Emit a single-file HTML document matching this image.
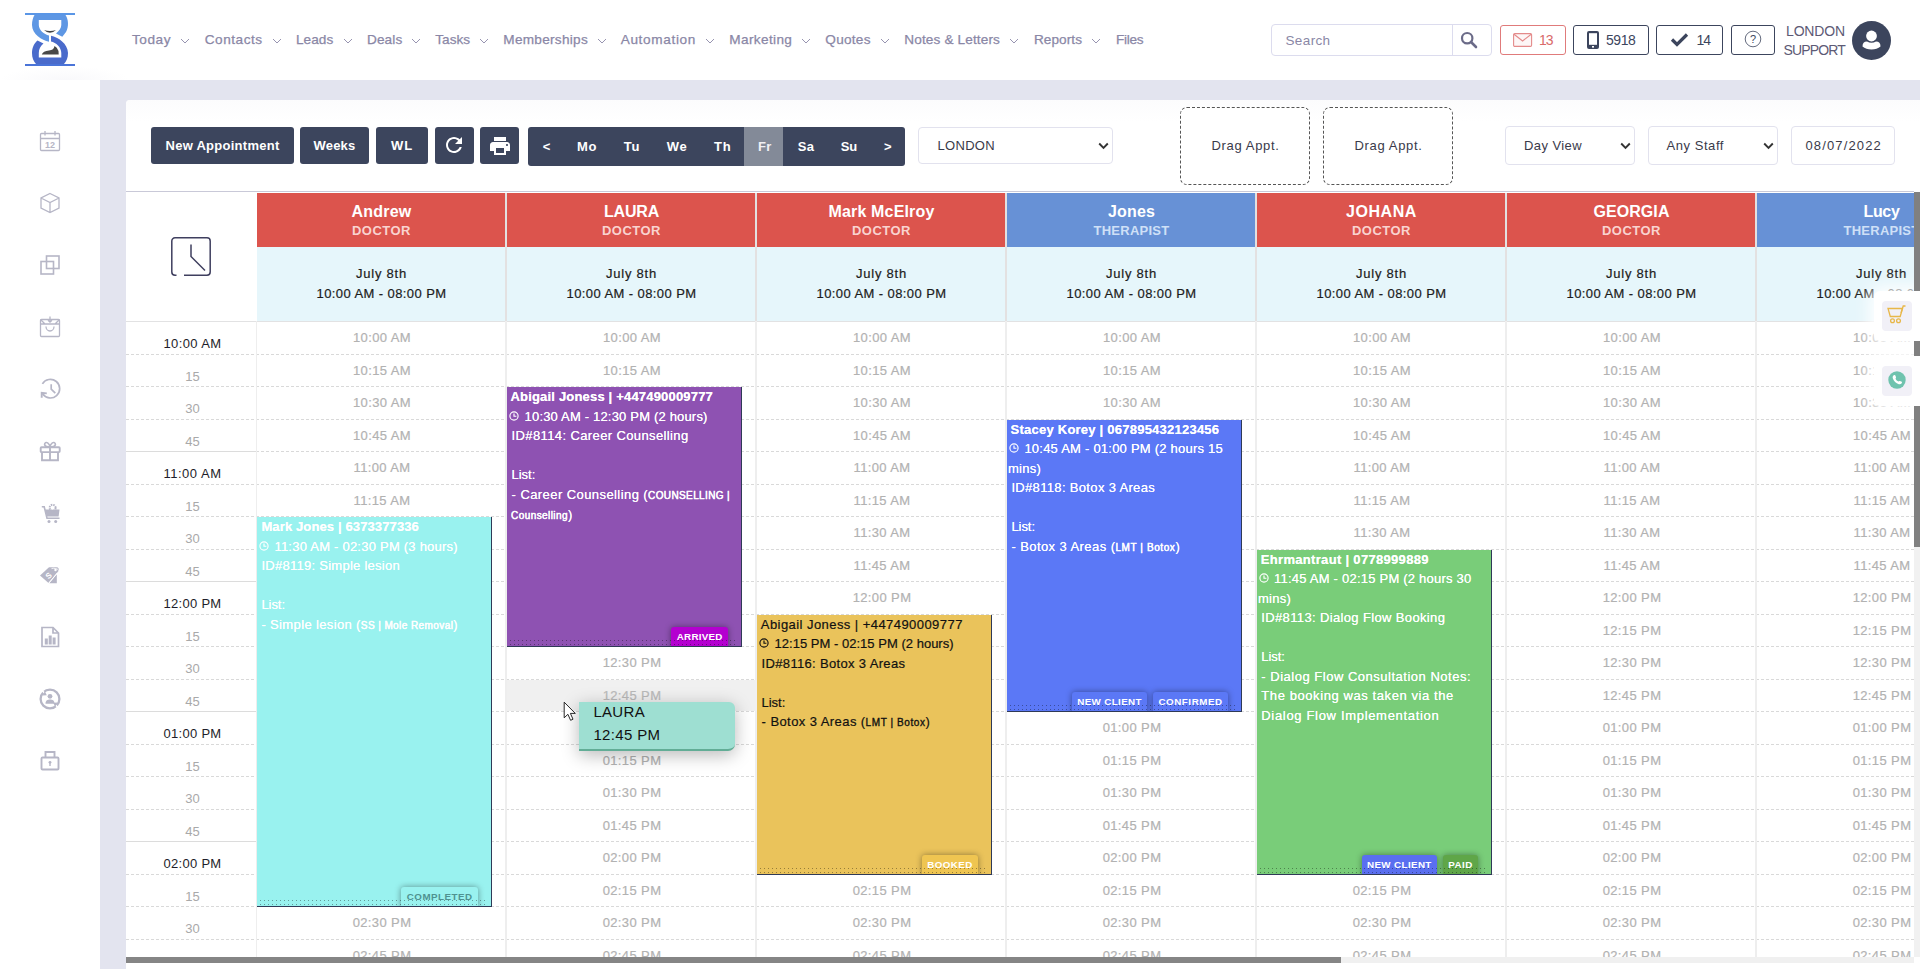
<!DOCTYPE html>
<html><head><meta charset="utf-8"><title>Calendar</title>
<style>
html,body{margin:0;padding:0;width:1920px;height:969px;overflow:hidden;}
#root{position:absolute;left:0;top:0;width:1920px;height:969px;overflow:hidden;}
body{width:1920px;height:969px;overflow:hidden;position:relative;background:#e3e4ef;font-family:"Liberation Sans", sans-serif;}
div,span{box-sizing:border-box;}

.dl{position:absolute;left:126px;width:1788px;height:1px;background:repeating-linear-gradient(90deg,#d9d9d9 0 3px,transparent 3px 5px);}
.st{position:absolute;line-height:20px;white-space:pre;color:#b2b2b2;-webkit-text-stroke:.2px #b2b2b2;font-size:13px;letter-spacing:0.383px;width:250px;text-align:center;}
.vl{position:absolute;top:193px;width:2px;height:776px;background:#eeeeee;}

</style></head><body><div id="root">
<div style="position:absolute;left:0px;top:0px;width:1920px;height:80px;background:#fff;"></div>
<div style="position:absolute;left:0px;top:0px;width:100px;height:969px;background:#fff;"></div>
<div style="position:absolute;left:0px;top:66px;width:130px;height:14px;background:radial-gradient(ellipse at 50% 100%, rgba(230,230,240,.25), rgba(255,255,255,0) 70%);"></div>
<div style="position:absolute;left:126px;top:100px;width:1794px;height:880px;background:#fff;border-radius:4px 4px 0 0;"></div>
<div style="position:absolute;left:126px;top:100px;width:1794px;height:22px;background:linear-gradient(#fcfcfd,#fff);border-radius:4px 0 0 0;"></div>
<svg style="position:absolute;left:25px;top:13px" width="50" height="53" viewBox="0 0 50 53">
<rect x="0" y="0" width="50" height="2" fill="#5a96e6"/>
<rect x="0" y="51" width="50" height="2" fill="#4a74d8"/>
<path d="M9.5,2 L40.5,2 C43.5,6 44,14 41,19 L37.3,23.7 L31,20.5 C34,18 36.300,15 36.300,12 L36.300,7 L13.8,7 L13.8,12 C13.8,17 19,21.5 24,22.4 L24,28.7 C17,27.5 7,21 7,12 C7,8 8,4.5 9.5,2 Z" fill="#5e97e4"/>
<path d="M26,22.8 C33,24 43,31 43,40 C43,45 41.5,48 39,51 L11,51 C8.5,48 7,45 7,40 C7,34 9.5,30 12.5,27.4 L18.5,30.5 C15.5,33 13.8,36 13.8,40 L13.8,44.6 L36.300,44.6 L36.300,40 C36.300,34 31,29.5 26,28.4 Z" fill="#4a6bcb"/>
<path d="M19,17 Q25,19 31,17 Q25,22.600 19,17Z" fill="#444"/>
<path d="M16.8,41.6 L33.7,41.6 L33.5,38 Q32,34 29.5,33 Q29,37 24,37.5 Q18,38 16.8,41.6 Z" fill="#484848"/>
</svg>
<div style="position:absolute;top:29.70px;line-height:20px;white-space:pre;color:#8a87a6;font-size:13.6px;font-weight:400;letter-spacing:0.544px;left:132.00px;-webkit-text-stroke:.25px #8a87a6;">Today</div>
<svg style="position:absolute;left:180px;top:38px" width="10" height="6" viewBox="0 0 10 6"><path d="M1 1 L5 5 L9 1" fill="none" stroke="#9794b0" stroke-width="1"/></svg>
<div style="position:absolute;top:29.70px;line-height:20px;white-space:pre;color:#8a87a6;font-size:13.6px;font-weight:400;letter-spacing:0.543px;left:204.70px;-webkit-text-stroke:.25px #8a87a6;">Contacts</div>
<svg style="position:absolute;left:271.7px;top:38px" width="10" height="6" viewBox="0 0 10 6"><path d="M1 1 L5 5 L9 1" fill="none" stroke="#9794b0" stroke-width="1"/></svg>
<div style="position:absolute;top:29.70px;line-height:20px;white-space:pre;color:#8a87a6;font-size:13.6px;font-weight:400;letter-spacing:0.051px;left:296.00px;-webkit-text-stroke:.25px #8a87a6;">Leads</div>
<svg style="position:absolute;left:342.7px;top:38px" width="10" height="6" viewBox="0 0 10 6"><path d="M1 1 L5 5 L9 1" fill="none" stroke="#9794b0" stroke-width="1"/></svg>
<div style="position:absolute;top:29.70px;line-height:20px;white-space:pre;color:#8a87a6;font-size:13.6px;font-weight:400;letter-spacing:0.107px;left:367.00px;-webkit-text-stroke:.25px #8a87a6;">Deals</div>
<svg style="position:absolute;left:411px;top:38px" width="10" height="6" viewBox="0 0 10 6"><path d="M1 1 L5 5 L9 1" fill="none" stroke="#9794b0" stroke-width="1"/></svg>
<div style="position:absolute;top:29.70px;line-height:20px;white-space:pre;color:#8a87a6;font-size:13.6px;font-weight:400;letter-spacing:-0.01px;left:435.30px;-webkit-text-stroke:.25px #8a87a6;">Tasks</div>
<svg style="position:absolute;left:479px;top:38px" width="10" height="6" viewBox="0 0 10 6"><path d="M1 1 L5 5 L9 1" fill="none" stroke="#9794b0" stroke-width="1"/></svg>
<div style="position:absolute;top:29.70px;line-height:20px;white-space:pre;color:#8a87a6;font-size:13.6px;font-weight:400;letter-spacing:0.282px;left:503.30px;-webkit-text-stroke:.25px #8a87a6;">Memberships</div>
<svg style="position:absolute;left:597px;top:38px" width="10" height="6" viewBox="0 0 10 6"><path d="M1 1 L5 5 L9 1" fill="none" stroke="#9794b0" stroke-width="1"/></svg>
<div style="position:absolute;top:29.70px;line-height:20px;white-space:pre;color:#8a87a6;font-size:13.6px;font-weight:400;letter-spacing:0.653px;left:620.70px;-webkit-text-stroke:.25px #8a87a6;">Automation</div>
<svg style="position:absolute;left:704.7px;top:38px" width="10" height="6" viewBox="0 0 10 6"><path d="M1 1 L5 5 L9 1" fill="none" stroke="#9794b0" stroke-width="1"/></svg>
<div style="position:absolute;top:29.70px;line-height:20px;white-space:pre;color:#8a87a6;font-size:13.6px;font-weight:400;letter-spacing:0.368px;left:729.30px;-webkit-text-stroke:.25px #8a87a6;">Marketing</div>
<svg style="position:absolute;left:800.7px;top:38px" width="10" height="6" viewBox="0 0 10 6"><path d="M1 1 L5 5 L9 1" fill="none" stroke="#9794b0" stroke-width="1"/></svg>
<div style="position:absolute;top:29.70px;line-height:20px;white-space:pre;color:#8a87a6;font-size:13.6px;font-weight:400;letter-spacing:0.262px;left:825.30px;-webkit-text-stroke:.25px #8a87a6;">Quotes</div>
<svg style="position:absolute;left:880px;top:38px" width="10" height="6" viewBox="0 0 10 6"><path d="M1 1 L5 5 L9 1" fill="none" stroke="#9794b0" stroke-width="1"/></svg>
<div style="position:absolute;top:29.70px;line-height:20px;white-space:pre;color:#8a87a6;font-size:13.6px;font-weight:400;letter-spacing:0.133px;left:904.30px;-webkit-text-stroke:.25px #8a87a6;">Notes &amp; Letters</div>
<svg style="position:absolute;left:1009.3px;top:38px" width="10" height="6" viewBox="0 0 10 6"><path d="M1 1 L5 5 L9 1" fill="none" stroke="#9794b0" stroke-width="1"/></svg>
<div style="position:absolute;top:29.70px;line-height:20px;white-space:pre;color:#8a87a6;font-size:13.6px;font-weight:400;letter-spacing:0.056px;left:1034.00px;-webkit-text-stroke:.25px #8a87a6;">Reports</div>
<svg style="position:absolute;left:1091px;top:38px" width="10" height="6" viewBox="0 0 10 6"><path d="M1 1 L5 5 L9 1" fill="none" stroke="#9794b0" stroke-width="1"/></svg>
<div style="position:absolute;top:29.70px;line-height:20px;white-space:pre;color:#8a87a6;font-size:13.6px;font-weight:400;letter-spacing:-0.281px;left:1116.00px;-webkit-text-stroke:.25px #8a87a6;">Files</div>
<div style="position:absolute;left:1271px;top:24px;width:221px;height:32px;background:#fff;border:1px solid #dcdcee;border-radius:4px;"></div>
<div style="position:absolute;left:1452px;top:25px;width:1px;height:30px;background:#dcdcee;"></div>
<div style="position:absolute;top:31.00px;line-height:20px;white-space:pre;color:#8a87a6;font-size:13.5px;font-weight:400;letter-spacing:0.37px;left:1285.50px;">Search</div>
<svg style="position:absolute;left:1460px;top:31px" width="18" height="18" viewBox="0 0 18 18"><circle cx="7.2" cy="7.2" r="5.2" fill="none" stroke="#6b6b88" stroke-width="2.2"/><path d="M11 11 L16 16" stroke="#6b6b88" stroke-width="2.6" stroke-linecap="round"/></svg>
<div style="position:absolute;left:1500px;top:25px;width:66px;height:30px;border:1px solid #e07b7b;border-radius:3px;background:#fff;"></div>
<svg style="position:absolute;left:1513px;top:33px" width="20" height="15" viewBox="0 0 20 15"><rect x=".6" y=".6" width="18" height="12.8" rx="1.2" fill="#fdf6f6" stroke="#e48a8a" stroke-width="1.1"/><path d="M1 1.2 L9.6 8 L18.2 1.2" fill="none" stroke="#e48a8a" stroke-width="1.1"/></svg>
<div style="position:absolute;top:29.50px;line-height:20px;white-space:pre;color:#d96a6a;font-size:14px;font-weight:400;letter-spacing:-1.039px;left:1539.00px;">13</div>
<div style="position:absolute;left:1573px;top:25px;width:76px;height:30px;border:1px solid #3c455d;border-radius:3px;background:#fff;"></div>
<svg style="position:absolute;left:1587px;top:31px" width="12" height="19" viewBox="0 0 12 19"><rect x="0" y="0" width="12" height="18" rx="2" fill="#3c455d"/><rect x="2" y="2.2" width="8" height="11.6" fill="#fff"/><rect x="5" y="15" width="2" height="1.6" fill="#fff"/></svg>
<div style="position:absolute;top:29.50px;line-height:20px;white-space:pre;color:#3c455d;font-size:14px;font-weight:400;letter-spacing:-0.414px;left:1606.00px;">5918</div>
<div style="position:absolute;left:1656px;top:25px;width:67px;height:30px;border:1px solid #3c455d;border-radius:3px;background:#fff;"></div>
<svg style="position:absolute;left:1670px;top:32px" width="19" height="15" viewBox="0 0 19 15"><path d="M2 7.5 L7 12.5 L17 2.5" fill="none" stroke="#3c455d" stroke-width="3.2"/></svg>
<div style="position:absolute;top:29.50px;line-height:20px;white-space:pre;color:#3c455d;font-size:14px;font-weight:400;letter-spacing:-1.039px;left:1696.50px;">14</div>
<div style="position:absolute;left:1731px;top:25px;width:44px;height:30px;border:1px solid #3c455d;border-radius:3px;background:#fff;"></div>
<svg style="position:absolute;left:1744px;top:30px" width="18" height="18" viewBox="0 0 18 18"><circle cx="9" cy="9" r="7.8" fill="none" stroke="#3c455d" stroke-width=".8"/><text x="9" y="13" text-anchor="middle" font-family="Liberation Sans" font-size="11" fill="#3c455d">?</text></svg>
<div style="position:absolute;top:20.50px;line-height:20px;white-space:pre;color:#5d5a75;font-size:14px;font-weight:400;letter-spacing:-0.151px;left:1786.00px;">LONDON</div>
<div style="position:absolute;top:39.50px;line-height:20px;white-space:pre;color:#5d5a75;font-size:14px;font-weight:400;letter-spacing:-0.848px;left:1783.50px;">SUPPORT</div>
<svg style="position:absolute;left:1852px;top:21px" width="39" height="39" viewBox="0 0 39 39"><circle cx="19.5" cy="19.5" r="19.5" fill="#3c455d"/><circle cx="19.5" cy="15" r="5.4" fill="#fff"/><path d="M10.5 25.5 Q10.5 20.5 15 20.5 Q19.5 23 24 20.5 Q28.500 20.5 28.5 25.500 Q25 28.500 19.5 28.500 Q14 28.500 10.5 25.500Z" fill="#fff"/></svg>
<svg style="position:absolute;left:38.0px;top:129.0px" width="24" height="24" viewBox="0 0 24 24" fill="none" stroke="#b6b6c6" stroke-width="1.3"><rect x="2.5" y="4.500" width="19" height="17" rx="1"/><path d="M2.5 9.5H21.5M7 2V6.500M17 2V6.500"/><text x="12" y="18.500" text-anchor="middle" font-family="Liberation Sans" font-size="9" font-weight="700" fill="#b6b6c6" stroke="none">12</text></svg>
<svg style="position:absolute;left:38.0px;top:191.0px" width="24" height="24" viewBox="0 0 24 24" fill="none" stroke="#b6b6c6" stroke-width="1.3"><path d="M12 2.500L21 7V17L12 21.500L3 17V7Z M3 7L12 11.500L21 7 M12 11.500V21.500"/></svg>
<svg style="position:absolute;left:38.0px;top:253.0px" width="24" height="24" viewBox="0 0 24 24" fill="none" stroke="#b6b6c6" stroke-width="1.3"><rect x="8.5" y="3" width="12.5" height="12.5" stroke-width="1.6"/><rect x="3" y="8.5" width="12.5" height="12.5" stroke-width="1.6"/></svg>
<svg style="position:absolute;left:38.0px;top:315.0px" width="24" height="24" viewBox="0 0 24 24" fill="none" stroke="#b6b6c6" stroke-width="1.3"><rect x="2.500" y="4.500" width="19" height="17" rx="1"/><path d="M2.500 9H21.5 M2.500 4.500L7 9 M21.5 4.500L17 9 M8 11.5a4 4.500 0 0 0 8 0 M12 1.500V7 M10 5.200L12 7.200L14 5.200"/></svg>
<svg style="position:absolute;left:37.5px;top:376.5px" width="25" height="25" viewBox="0 0 25 25" fill="none" stroke="#b6b6c6" stroke-width="1.3"><path d="M4.400 6.900A9.300 9.300 0 1 1 4.600 16.800" stroke-width="1.700"/><path d="M13.200 7.200V12.200L17.300 16.200" stroke-width="1.700"/><path d="M3.700 20.800L3.700 15.800L8.800 16.400" stroke-width="1.900" stroke-linejoin="miter"/></svg>
<svg style="position:absolute;left:38.0px;top:439.0px" width="24" height="24" viewBox="0 0 24 24" fill="none" stroke="#b6b6c6" stroke-width="1.3"><rect x="2.700" y="8.300" width="19" height="4.800" rx=".8" stroke-width="1.900"/><path d="M4 13.100V21.200H20V13.100 M12 8.300V21.200" stroke-width="1.900"/><path d="M12 8C9 8 5.800 7 6.800 4.500C8 2.200 11.500 4 12 8C12.500 4 16 2.200 17.200 4.500C18.200 7 15 8 12 8Z" stroke-width="1.600"/></svg>
<svg style="position:absolute;left:39.5px;top:503.0px" width="24" height="24" viewBox="0 0 24 24" fill="none" stroke="#b6b6c6" stroke-width="1.3"><path d="M1.800 3.800H4.200L7 15.300H19.500" stroke-width="1.600"/><path d="M5 6.500H19.500L18.600 13.500H6.800Z" fill="#b6b6c6" stroke="none"/><circle cx="9" cy="18.400" r="1.500" fill="#b6b6c6" stroke="none"/><circle cx="15.700" cy="18.400" r="1.500" fill="#b6b6c6" stroke="none"/><circle cx="12.600" cy="4.800" r="3" stroke-width="2" stroke-dasharray="1.500 .900"/><circle cx="12.600" cy="5" r="1.600" fill="#fff" stroke="none"/></svg>
<svg style="position:absolute;left:39.2px;top:564.0px" width="24" height="24" viewBox="0 0 24 24" fill="none" stroke="#b6b6c6" stroke-width="1.3"><path d="M1 11.500L10 3.300L17.500 3.200C19.500 3.300 20.500 5 19.500 7L9.500 19Z" fill="#b6b6c6" stroke="none"/><path d="M10.300 19.200L17.800 10.200V19.200Z" fill="#b6b6c6" stroke="none"/><path d="M9.500 19.400L18.300 9" stroke="#fff" stroke-width="1"/><circle cx="16.500" cy="6" r="1.200" fill="#fff" stroke="none"/><path d="M12.500 4.600C14.500 3.800 18.800 4.500 19.800 6.500" stroke="#fff" stroke-width=".8"/><text x="7" y="14.800" font-family="Liberation Sans" font-weight="700" font-size="8" fill="#fff" stroke="none" transform="rotate(-42 9 12)">S</text></svg>
<svg style="position:absolute;left:38.0px;top:625.0px" width="24" height="24" viewBox="0 0 24 24" fill="none" stroke="#b6b6c6" stroke-width="1.3"><path d="M4 2.500H15L20.500 8V21.500H4Z M15 2.500V8H20.500" stroke-width="1.700"/><rect x="6.800" y="13.500" width="3" height="6" fill="#b6b6c6" stroke="none"/><rect x="10.700" y="10.500" width="3" height="9" fill="#b6b6c6" stroke="none"/><rect x="14.600" y="12.500" width="3" height="7" fill="#b6b6c6" stroke="none"/></svg>
<svg style="position:absolute;left:38.0px;top:687.0px" width="24" height="24" viewBox="0 0 24 24" fill="none" stroke="#b6b6c6" stroke-width="1.3"><circle cx="12" cy="12" r="9.400" stroke-width="2.300"/><path d="M3.500 3L8.500 8 M20.500 21L15.500 16" stroke="#fff" stroke-width="1.600"/><path d="M6.800 4.200L8.800 8.300L4.500 8.500Z M17.200 19.800L15.200 15.700L19.500 15.500Z" fill="#b6b6c6" stroke="none"/><circle cx="12" cy="9.300" r="2.400" fill="#b6b6c6" stroke="none"/><path d="M7.500 16.800C7.500 13.500 9.500 12.600 12 12.600C14.500 12.600 16.500 13.500 16.500 16.800Z" fill="#b6b6c6" stroke="none"/></svg>
<svg style="position:absolute;left:38.0px;top:747.8px" width="24" height="24" viewBox="0 0 24 24" fill="none" stroke="#b6b6c6" stroke-width="1.3"><rect x="3.500" y="9.500" width="17" height="12" rx="1" stroke-width="1.900"/><path d="M7.500 9.500V4H16.500V9.500" stroke-width="1.900"/><circle cx="12" cy="14.300" r="1.400" fill="#b6b6c6" stroke="none"/><path d="M12 15V18" stroke-width="1.400"/></svg>
<div style="position:absolute;left:151px;top:127px;width:143px;height:37px;background:#3c455d;border-radius:3px;"></div>
<div style="position:absolute;top:136.10px;line-height:20px;white-space:pre;color:#fff;font-size:13px;font-weight:700;letter-spacing:0.266px;left:165.50px;">New Appointment</div>
<div style="position:absolute;left:300px;top:127px;width:69px;height:37px;background:#3c455d;border-radius:3px;"></div>
<div style="position:absolute;top:136.10px;line-height:20px;white-space:pre;color:#fff;font-size:13px;font-weight:700;letter-spacing:0.206px;left:313.50px;">Weeks</div>
<div style="position:absolute;left:376px;top:127px;width:52px;height:37px;background:#3c455d;border-radius:3px;"></div>
<div style="position:absolute;top:136.10px;line-height:20px;white-space:pre;color:#fff;font-size:13px;font-weight:700;letter-spacing:0.891px;left:391.00px;">WL</div>
<div style="position:absolute;left:435px;top:127px;width:39px;height:37px;background:#3c455d;border-radius:3px;"></div>
<svg style="position:absolute;left:442px;top:133px" width="24" height="24" viewBox="0 0 24 24"><path fill="#fff" d="M17.65 6.350C16.2 4.900 14.210 4 12 4c-4.420 0-7.990 3.580-7.990 8s3.570 8 7.990 8c3.730 0 6.840-2.550 7.730-6h-2.080c-.820 2.330-3.040 4-5.650 4-3.310 0-6-2.690-6-6s2.690-6 6-6c1.660 0 3.140.690 4.220 1.780L13 11h7V4l-2.350 2.350z"/></svg>
<div style="position:absolute;left:480px;top:127px;width:39px;height:37px;background:#3c455d;border-radius:3px;"></div>
<svg style="position:absolute;left:487.500px;top:133.500px" width="24" height="24" viewBox="0 0 24 24"><path fill="#fff" d="M19 8H5c-1.660 0-3 1.340-3 3v6h4v4h12v-4h4v-6c0-1.660-1.340-3-3-3zm-3 11H8v-5h8v5zm3-7c-.550 0-1-.450-1-1s.450-1 1-1 1 .450 1 1-.450 1-1 1zm-1-9H6v4h12V3z"/></svg>
<div style="position:absolute;left:528px;top:127px;width:377px;height:39px;background:#3c455d;border-radius:3px;"></div>
<div style="position:absolute;left:744px;top:127px;width:39px;height:39px;background:#838a98;"></div>
<div style="position:absolute;top:136.50px;line-height:20px;white-space:pre;color:#fff;font-size:13px;font-weight:700;letter-spacing:0.406px;left:542.70px;">&lt;</div>
<div style="position:absolute;top:136.50px;line-height:20px;white-space:pre;color:#fff;font-size:13px;font-weight:700;letter-spacing:0.609px;left:577.00px;">Mo</div>
<div style="position:absolute;top:136.50px;line-height:20px;white-space:pre;color:#fff;font-size:13px;font-weight:700;letter-spacing:0.789px;left:623.75px;">Tu</div>
<div style="position:absolute;top:136.50px;line-height:20px;white-space:pre;color:#fff;font-size:13px;font-weight:700;letter-spacing:0.617px;left:666.75px;">We</div>
<div style="position:absolute;top:136.50px;line-height:20px;white-space:pre;color:#fff;font-size:13px;font-weight:700;letter-spacing:0.805px;left:713.95px;">Th</div>
<div style="position:absolute;top:136.50px;line-height:20px;white-space:pre;color:#f0f0f4;font-size:13px;font-weight:700;letter-spacing:0.25px;left:758.05px;">Fr</div>
<div style="position:absolute;top:136.50px;line-height:20px;white-space:pre;color:#fff;font-size:13px;font-weight:700;letter-spacing:0.297px;left:797.75px;">Sa</div>
<div style="position:absolute;top:136.50px;line-height:20px;white-space:pre;color:#fff;font-size:13px;font-weight:700;letter-spacing:-0.062px;left:840.75px;">Su</div>
<div style="position:absolute;top:136.50px;line-height:20px;white-space:pre;color:#fff;font-size:13px;font-weight:700;letter-spacing:0.406px;left:884.00px;">&gt;</div>
<div style="position:absolute;left:918px;top:127px;width:195px;height:37px;background:#fff;border:1px solid #e2e2ee;border-radius:4px;"></div>
<div style="position:absolute;top:136.20px;line-height:20px;white-space:pre;color:#3a3a4a;font-size:13px;font-weight:400;letter-spacing:0.312px;left:937.50px;">LONDON</div>
<svg style="position:absolute;left:1097.5px;top:142.0px" width="11" height="8" viewBox="0 0 11 8"><path d="M1.200 1.500L5.500 5.800L9.800 1.500" fill="none" stroke="#333" stroke-width="1.900"/></svg>
<div style="position:absolute;left:1505px;top:126px;width:130px;height:39px;background:#fff;border:1px solid #e2e2ee;border-radius:4px;"></div>
<div style="position:absolute;top:136.20px;line-height:20px;white-space:pre;color:#3a3a4a;font-size:13px;font-weight:400;letter-spacing:0.414px;left:1524.00px;">Day View</div>
<svg style="position:absolute;left:1619.5px;top:142.0px" width="11" height="8" viewBox="0 0 11 8"><path d="M1.200 1.500L5.500 5.800L9.800 1.500" fill="none" stroke="#333" stroke-width="1.900"/></svg>
<div style="position:absolute;left:1648px;top:126px;width:130px;height:39px;background:#fff;border:1px solid #e2e2ee;border-radius:4px;"></div>
<div style="position:absolute;top:136.20px;line-height:20px;white-space:pre;color:#3a3a4a;font-size:13px;font-weight:400;letter-spacing:0.554px;left:1666.50px;">Any Staff</div>
<svg style="position:absolute;left:1762.5px;top:142.0px" width="11" height="8" viewBox="0 0 11 8"><path d="M1.200 1.500L5.500 5.800L9.800 1.500" fill="none" stroke="#333" stroke-width="1.900"/></svg>
<div style="position:absolute;left:1791px;top:126px;width:104px;height:39px;background:#fff;border:1px solid #e2e2ee;border-radius:4px;"></div>
<div style="position:absolute;top:136.20px;line-height:20px;white-space:pre;color:#3a3a4a;font-size:13px;font-weight:400;letter-spacing:1.142px;left:1805.50px;">08/07/2022</div>
<div style="position:absolute;left:1180px;top:107px;width:130px;height:78px;border:1px dashed #555;border-radius:7px;background:#fff;"></div>
<div style="position:absolute;top:135.50px;line-height:20px;white-space:pre;color:#3a3a4a;font-size:13px;font-weight:400;letter-spacing:0.656px;left:1211.50px;">Drag Appt.</div>
<div style="position:absolute;left:1323px;top:107px;width:130px;height:78px;border:1px dashed #555;border-radius:7px;background:#fff;"></div>
<div style="position:absolute;top:135.50px;line-height:20px;white-space:pre;color:#3a3a4a;font-size:13px;font-weight:400;letter-spacing:0.656px;left:1354.50px;">Drag Appt.</div>
<div style="position:absolute;left:126px;top:190.6px;width:1788px;height:1.2px;background:#c9c9d8;"></div>
<svg style="position:absolute;left:170px;top:236px" width="42" height="42" viewBox="0 0 42 42" fill="none" stroke="#3f3f5f" stroke-width="1.500"><path d="M6.500 39.200H5A3.200 3.200 0 0 1 1.800 36V5A3.200 3.200 0 0 1 5 1.800H37A3.200 3.200 0 0 1 40.200 5V36A3.200 3.200 0 0 1 37 39.200H14"/><path d="M21 8.500V20.500L35 34.500"/></svg>
<div style="position:absolute;left:257px;top:193px;width:249px;height:54px;background:#dc544d;"></div>
<div style="position:absolute;left:257px;top:247px;width:249px;height:74.5px;background:#e6f6fb;"></div>
<div style="position:absolute;top:202.20px;line-height:20px;white-space:pre;color:#fff;font-size:16px;font-weight:700;letter-spacing:0.221px;left:351.50px;font-weight:600;">Andrew</div>
<div style="position:absolute;top:220.50px;line-height:20px;white-space:pre;color:#f9d3d0;font-size:13px;font-weight:700;letter-spacing:0.482px;left:352.00px;">DOCTOR</div>
<div style="position:absolute;top:264.10px;line-height:20px;white-space:pre;color:#1c1c1c;font-size:13px;font-weight:400;letter-spacing:0.773px;left:356.00px;-webkit-text-stroke:.2px #1c1c1c;">July 8th</div>
<div style="position:absolute;top:283.90px;line-height:20px;white-space:pre;color:#1c1c1c;font-size:13px;font-weight:400;letter-spacing:0.414px;left:316.50px;-webkit-text-stroke:.2px #1c1c1c;">10:00 AM - 08:00 PM</div>
<div style="position:absolute;left:507px;top:193px;width:249px;height:54px;background:#dc544d;"></div>
<div style="position:absolute;left:507px;top:247px;width:249px;height:74.5px;background:#e6f6fb;"></div>
<div style="position:absolute;top:202.20px;line-height:20px;white-space:pre;color:#fff;font-size:16px;font-weight:700;letter-spacing:-0.2px;left:604.00px;font-weight:600;">LAURA</div>
<div style="position:absolute;top:220.50px;line-height:20px;white-space:pre;color:#f9d3d0;font-size:13px;font-weight:700;letter-spacing:0.482px;left:602.00px;">DOCTOR</div>
<div style="position:absolute;top:264.10px;line-height:20px;white-space:pre;color:#1c1c1c;font-size:13px;font-weight:400;letter-spacing:0.773px;left:606.00px;-webkit-text-stroke:.2px #1c1c1c;">July 8th</div>
<div style="position:absolute;top:283.90px;line-height:20px;white-space:pre;color:#1c1c1c;font-size:13px;font-weight:400;letter-spacing:0.414px;left:566.50px;-webkit-text-stroke:.2px #1c1c1c;">10:00 AM - 08:00 PM</div>
<div style="position:absolute;left:757px;top:193px;width:249px;height:54px;background:#dc544d;"></div>
<div style="position:absolute;left:757px;top:247px;width:249px;height:74.5px;background:#e6f6fb;"></div>
<div style="position:absolute;top:202.20px;line-height:20px;white-space:pre;color:#fff;font-size:16px;font-weight:700;letter-spacing:0.163px;left:828.50px;font-weight:600;">Mark McElroy</div>
<div style="position:absolute;top:220.50px;line-height:20px;white-space:pre;color:#f9d3d0;font-size:13px;font-weight:700;letter-spacing:0.482px;left:852.00px;">DOCTOR</div>
<div style="position:absolute;top:264.10px;line-height:20px;white-space:pre;color:#1c1c1c;font-size:13px;font-weight:400;letter-spacing:0.773px;left:856.00px;-webkit-text-stroke:.2px #1c1c1c;">July 8th</div>
<div style="position:absolute;top:283.90px;line-height:20px;white-space:pre;color:#1c1c1c;font-size:13px;font-weight:400;letter-spacing:0.414px;left:816.50px;-webkit-text-stroke:.2px #1c1c1c;">10:00 AM - 08:00 PM</div>
<div style="position:absolute;left:1007px;top:193px;width:249px;height:54px;background:#6791d6;"></div>
<div style="position:absolute;left:1007px;top:247px;width:249px;height:74.5px;background:#e6f6fb;"></div>
<div style="position:absolute;top:202.20px;line-height:20px;white-space:pre;color:#fff;font-size:16px;font-weight:700;letter-spacing:0.15px;left:1108.00px;font-weight:600;">Jones</div>
<div style="position:absolute;top:220.50px;line-height:20px;white-space:pre;color:#cfe0f7;font-size:13px;font-weight:700;letter-spacing:0.259px;left:1093.50px;">THERAPIST</div>
<div style="position:absolute;top:264.10px;line-height:20px;white-space:pre;color:#1c1c1c;font-size:13px;font-weight:400;letter-spacing:0.773px;left:1106.00px;-webkit-text-stroke:.2px #1c1c1c;">July 8th</div>
<div style="position:absolute;top:283.90px;line-height:20px;white-space:pre;color:#1c1c1c;font-size:13px;font-weight:400;letter-spacing:0.414px;left:1066.50px;-webkit-text-stroke:.2px #1c1c1c;">10:00 AM - 08:00 PM</div>
<div style="position:absolute;left:1257px;top:193px;width:249px;height:54px;background:#dc544d;"></div>
<div style="position:absolute;left:1257px;top:247px;width:249px;height:74.5px;background:#e6f6fb;"></div>
<div style="position:absolute;top:202.20px;line-height:20px;white-space:pre;color:#fff;font-size:16px;font-weight:700;letter-spacing:0.573px;left:1346.00px;font-weight:600;">JOHANA</div>
<div style="position:absolute;top:220.50px;line-height:20px;white-space:pre;color:#f9d3d0;font-size:13px;font-weight:700;letter-spacing:0.482px;left:1352.00px;">DOCTOR</div>
<div style="position:absolute;top:264.10px;line-height:20px;white-space:pre;color:#1c1c1c;font-size:13px;font-weight:400;letter-spacing:0.773px;left:1356.00px;-webkit-text-stroke:.2px #1c1c1c;">July 8th</div>
<div style="position:absolute;top:283.90px;line-height:20px;white-space:pre;color:#1c1c1c;font-size:13px;font-weight:400;letter-spacing:0.414px;left:1316.50px;-webkit-text-stroke:.2px #1c1c1c;">10:00 AM - 08:00 PM</div>
<div style="position:absolute;left:1507px;top:193px;width:249px;height:54px;background:#dc544d;"></div>
<div style="position:absolute;left:1507px;top:247px;width:249px;height:74.5px;background:#e6f6fb;"></div>
<div style="position:absolute;top:202.20px;line-height:20px;white-space:pre;color:#fff;font-size:16px;font-weight:700;letter-spacing:0.062px;left:1593.50px;font-weight:600;">GEORGIA</div>
<div style="position:absolute;top:220.50px;line-height:20px;white-space:pre;color:#f9d3d0;font-size:13px;font-weight:700;letter-spacing:0.482px;left:1602.00px;">DOCTOR</div>
<div style="position:absolute;top:264.10px;line-height:20px;white-space:pre;color:#1c1c1c;font-size:13px;font-weight:400;letter-spacing:0.773px;left:1606.00px;-webkit-text-stroke:.2px #1c1c1c;">July 8th</div>
<div style="position:absolute;top:283.90px;line-height:20px;white-space:pre;color:#1c1c1c;font-size:13px;font-weight:400;letter-spacing:0.414px;left:1566.50px;-webkit-text-stroke:.2px #1c1c1c;">10:00 AM - 08:00 PM</div>
<div style="position:absolute;left:1757px;top:193px;width:249px;height:54px;background:#6791d6;"></div>
<div style="position:absolute;left:1757px;top:247px;width:249px;height:74.5px;background:#e6f6fb;"></div>
<div style="position:absolute;top:202.20px;line-height:20px;white-space:pre;color:#fff;font-size:16px;font-weight:700;letter-spacing:-0.336px;left:1863.50px;font-weight:600;">Lucy</div>
<div style="position:absolute;top:220.50px;line-height:20px;white-space:pre;color:#cfe0f7;font-size:13px;font-weight:700;letter-spacing:0.259px;left:1843.50px;">THERAPIST</div>
<div style="position:absolute;top:264.10px;line-height:20px;white-space:pre;color:#1c1c1c;font-size:13px;font-weight:400;letter-spacing:0.773px;left:1856.00px;-webkit-text-stroke:.2px #1c1c1c;">July 8th</div>
<div style="position:absolute;top:283.90px;line-height:20px;white-space:pre;color:#1c1c1c;font-size:13px;font-weight:400;letter-spacing:0.414px;left:1816.50px;-webkit-text-stroke:.2px #1c1c1c;">10:00 AM - 08:00 PM</div>
<div style="position:absolute;left:126px;top:321px;width:1788px;height:1px;background:#e2e2e3;"></div>
<div style="position:absolute;top:334.20px;line-height:20px;white-space:pre;color:#1e1e2a;font-size:13px;font-weight:400;letter-spacing:0.383px;left:163.50px;">10:00 AM</div>
<div class="st" style="left:257px;top:327.50px">10:00 AM</div>
<div class="st" style="left:507px;top:327.50px">10:00 AM</div>
<div class="st" style="left:757px;top:327.50px">10:00 AM</div>
<div class="st" style="left:1007px;top:327.50px">10:00 AM</div>
<div class="st" style="left:1257px;top:327.50px">10:00 AM</div>
<div class="st" style="left:1507px;top:327.50px">10:00 AM</div>
<div class="st" style="left:1757px;top:327.50px">10:00 AM</div>
<div class="dl" style="top:354px"></div>
<div style="position:absolute;top:366.50px;line-height:20px;white-space:pre;color:#a9a9a9;font-size:13px;font-weight:400;letter-spacing:0.016px;left:185.25px;">15</div>
<div class="st" style="left:257px;top:360.80px">10:15 AM</div>
<div class="st" style="left:507px;top:360.80px">10:15 AM</div>
<div class="st" style="left:757px;top:360.80px">10:15 AM</div>
<div class="st" style="left:1007px;top:360.80px">10:15 AM</div>
<div class="st" style="left:1257px;top:360.80px">10:15 AM</div>
<div class="st" style="left:1507px;top:360.80px">10:15 AM</div>
<div class="st" style="left:1757px;top:360.80px">10:15 AM</div>
<div class="dl" style="top:386px"></div>
<div style="position:absolute;top:399.00px;line-height:20px;white-space:pre;color:#a9a9a9;font-size:13px;font-weight:400;letter-spacing:0.016px;left:185.25px;">30</div>
<div class="st" style="left:257px;top:392.50px">10:30 AM</div>
<div class="st" style="left:507px;top:392.50px">10:30 AM</div>
<div class="st" style="left:757px;top:392.50px">10:30 AM</div>
<div class="st" style="left:1007px;top:392.50px">10:30 AM</div>
<div class="st" style="left:1257px;top:392.50px">10:30 AM</div>
<div class="st" style="left:1507px;top:392.50px">10:30 AM</div>
<div class="st" style="left:1757px;top:392.50px">10:30 AM</div>
<div class="dl" style="top:419px"></div>
<div style="position:absolute;top:431.50px;line-height:20px;white-space:pre;color:#a9a9a9;font-size:13px;font-weight:400;letter-spacing:0.016px;left:185.25px;">45</div>
<div class="st" style="left:257px;top:425.80px">10:45 AM</div>
<div class="st" style="left:507px;top:425.80px">10:45 AM</div>
<div class="st" style="left:757px;top:425.80px">10:45 AM</div>
<div class="st" style="left:1007px;top:425.80px">10:45 AM</div>
<div class="st" style="left:1257px;top:425.80px">10:45 AM</div>
<div class="st" style="left:1507px;top:425.80px">10:45 AM</div>
<div class="st" style="left:1757px;top:425.80px">10:45 AM</div>
<div style="position:absolute;left:126px;top:450.75px;width:130px;height:1.5px;background:#dcdcdc;"></div>
<div class="dl" style="top:451px;left:256px;width:1658px"></div>
<div style="position:absolute;top:464.20px;line-height:20px;white-space:pre;color:#1e1e2a;font-size:13px;font-weight:400;letter-spacing:0.504px;left:163.50px;">11:00 AM</div>
<div class="st" style="left:257px;top:457.50px">11:00 AM</div>
<div class="st" style="left:507px;top:457.50px">11:00 AM</div>
<div class="st" style="left:757px;top:457.50px">11:00 AM</div>
<div class="st" style="left:1007px;top:457.50px">11:00 AM</div>
<div class="st" style="left:1257px;top:457.50px">11:00 AM</div>
<div class="st" style="left:1507px;top:457.50px">11:00 AM</div>
<div class="st" style="left:1757px;top:457.50px">11:00 AM</div>
<div class="dl" style="top:484px"></div>
<div style="position:absolute;top:496.50px;line-height:20px;white-space:pre;color:#a9a9a9;font-size:13px;font-weight:400;letter-spacing:0.016px;left:185.25px;">15</div>
<div class="st" style="left:257px;top:490.80px">11:15 AM</div>
<div class="st" style="left:507px;top:490.80px">11:15 AM</div>
<div class="st" style="left:757px;top:490.80px">11:15 AM</div>
<div class="st" style="left:1007px;top:490.80px">11:15 AM</div>
<div class="st" style="left:1257px;top:490.80px">11:15 AM</div>
<div class="st" style="left:1507px;top:490.80px">11:15 AM</div>
<div class="st" style="left:1757px;top:490.80px">11:15 AM</div>
<div class="dl" style="top:516px"></div>
<div style="position:absolute;top:529.00px;line-height:20px;white-space:pre;color:#a9a9a9;font-size:13px;font-weight:400;letter-spacing:0.016px;left:185.25px;">30</div>
<div class="st" style="left:257px;top:522.50px">11:30 AM</div>
<div class="st" style="left:507px;top:522.50px">11:30 AM</div>
<div class="st" style="left:757px;top:522.50px">11:30 AM</div>
<div class="st" style="left:1007px;top:522.50px">11:30 AM</div>
<div class="st" style="left:1257px;top:522.50px">11:30 AM</div>
<div class="st" style="left:1507px;top:522.50px">11:30 AM</div>
<div class="st" style="left:1757px;top:522.50px">11:30 AM</div>
<div class="dl" style="top:549px"></div>
<div style="position:absolute;top:561.50px;line-height:20px;white-space:pre;color:#a9a9a9;font-size:13px;font-weight:400;letter-spacing:0.016px;left:185.25px;">45</div>
<div class="st" style="left:257px;top:555.80px">11:45 AM</div>
<div class="st" style="left:507px;top:555.80px">11:45 AM</div>
<div class="st" style="left:757px;top:555.80px">11:45 AM</div>
<div class="st" style="left:1007px;top:555.80px">11:45 AM</div>
<div class="st" style="left:1257px;top:555.80px">11:45 AM</div>
<div class="st" style="left:1507px;top:555.80px">11:45 AM</div>
<div class="st" style="left:1757px;top:555.80px">11:45 AM</div>
<div style="position:absolute;left:126px;top:580.75px;width:130px;height:1.5px;background:#dcdcdc;"></div>
<div class="dl" style="top:581px;left:256px;width:1658px"></div>
<div style="position:absolute;top:594.20px;line-height:20px;white-space:pre;color:#1e1e2a;font-size:13px;font-weight:400;letter-spacing:0.293px;left:163.50px;">12:00 PM</div>
<div class="st" style="left:257px;top:587.50px">12:00 PM</div>
<div class="st" style="left:507px;top:587.50px">12:00 PM</div>
<div class="st" style="left:757px;top:587.50px">12:00 PM</div>
<div class="st" style="left:1007px;top:587.50px">12:00 PM</div>
<div class="st" style="left:1257px;top:587.50px">12:00 PM</div>
<div class="st" style="left:1507px;top:587.50px">12:00 PM</div>
<div class="st" style="left:1757px;top:587.50px">12:00 PM</div>
<div class="dl" style="top:614px"></div>
<div style="position:absolute;top:626.50px;line-height:20px;white-space:pre;color:#a9a9a9;font-size:13px;font-weight:400;letter-spacing:0.016px;left:185.25px;">15</div>
<div class="st" style="left:257px;top:620.80px">12:15 PM</div>
<div class="st" style="left:507px;top:620.80px">12:15 PM</div>
<div class="st" style="left:757px;top:620.80px">12:15 PM</div>
<div class="st" style="left:1007px;top:620.80px">12:15 PM</div>
<div class="st" style="left:1257px;top:620.80px">12:15 PM</div>
<div class="st" style="left:1507px;top:620.80px">12:15 PM</div>
<div class="st" style="left:1757px;top:620.80px">12:15 PM</div>
<div class="dl" style="top:646px"></div>
<div style="position:absolute;top:659.00px;line-height:20px;white-space:pre;color:#a9a9a9;font-size:13px;font-weight:400;letter-spacing:0.016px;left:185.25px;">30</div>
<div class="st" style="left:257px;top:652.50px">12:30 PM</div>
<div class="st" style="left:507px;top:652.50px">12:30 PM</div>
<div class="st" style="left:757px;top:652.50px">12:30 PM</div>
<div class="st" style="left:1007px;top:652.50px">12:30 PM</div>
<div class="st" style="left:1257px;top:652.50px">12:30 PM</div>
<div class="st" style="left:1507px;top:652.50px">12:30 PM</div>
<div class="st" style="left:1757px;top:652.50px">12:30 PM</div>
<div class="dl" style="top:679px"></div>
<div style="position:absolute;top:691.50px;line-height:20px;white-space:pre;color:#a9a9a9;font-size:13px;font-weight:400;letter-spacing:0.016px;left:185.25px;">45</div>
<div class="st" style="left:257px;top:685.80px">12:45 PM</div>
<div class="st" style="left:507px;top:685.80px">12:45 PM</div>
<div class="st" style="left:757px;top:685.80px">12:45 PM</div>
<div class="st" style="left:1007px;top:685.80px">12:45 PM</div>
<div class="st" style="left:1257px;top:685.80px">12:45 PM</div>
<div class="st" style="left:1507px;top:685.80px">12:45 PM</div>
<div class="st" style="left:1757px;top:685.80px">12:45 PM</div>
<div style="position:absolute;left:126px;top:710.75px;width:130px;height:1.5px;background:#dcdcdc;"></div>
<div class="dl" style="top:711px;left:256px;width:1658px"></div>
<div style="position:absolute;top:724.20px;line-height:20px;white-space:pre;color:#1e1e2a;font-size:13px;font-weight:400;letter-spacing:0.293px;left:163.50px;">01:00 PM</div>
<div class="st" style="left:257px;top:717.50px">01:00 PM</div>
<div class="st" style="left:507px;top:717.50px">01:00 PM</div>
<div class="st" style="left:757px;top:717.50px">01:00 PM</div>
<div class="st" style="left:1007px;top:717.50px">01:00 PM</div>
<div class="st" style="left:1257px;top:717.50px">01:00 PM</div>
<div class="st" style="left:1507px;top:717.50px">01:00 PM</div>
<div class="st" style="left:1757px;top:717.50px">01:00 PM</div>
<div class="dl" style="top:744px"></div>
<div style="position:absolute;top:756.50px;line-height:20px;white-space:pre;color:#a9a9a9;font-size:13px;font-weight:400;letter-spacing:0.016px;left:185.25px;">15</div>
<div class="st" style="left:257px;top:750.80px">01:15 PM</div>
<div class="st" style="left:507px;top:750.80px">01:15 PM</div>
<div class="st" style="left:757px;top:750.80px">01:15 PM</div>
<div class="st" style="left:1007px;top:750.80px">01:15 PM</div>
<div class="st" style="left:1257px;top:750.80px">01:15 PM</div>
<div class="st" style="left:1507px;top:750.80px">01:15 PM</div>
<div class="st" style="left:1757px;top:750.80px">01:15 PM</div>
<div class="dl" style="top:776px"></div>
<div style="position:absolute;top:789.00px;line-height:20px;white-space:pre;color:#a9a9a9;font-size:13px;font-weight:400;letter-spacing:0.016px;left:185.25px;">30</div>
<div class="st" style="left:257px;top:782.50px">01:30 PM</div>
<div class="st" style="left:507px;top:782.50px">01:30 PM</div>
<div class="st" style="left:757px;top:782.50px">01:30 PM</div>
<div class="st" style="left:1007px;top:782.50px">01:30 PM</div>
<div class="st" style="left:1257px;top:782.50px">01:30 PM</div>
<div class="st" style="left:1507px;top:782.50px">01:30 PM</div>
<div class="st" style="left:1757px;top:782.50px">01:30 PM</div>
<div class="dl" style="top:809px"></div>
<div style="position:absolute;top:821.50px;line-height:20px;white-space:pre;color:#a9a9a9;font-size:13px;font-weight:400;letter-spacing:0.016px;left:185.25px;">45</div>
<div class="st" style="left:257px;top:815.80px">01:45 PM</div>
<div class="st" style="left:507px;top:815.80px">01:45 PM</div>
<div class="st" style="left:757px;top:815.80px">01:45 PM</div>
<div class="st" style="left:1007px;top:815.80px">01:45 PM</div>
<div class="st" style="left:1257px;top:815.80px">01:45 PM</div>
<div class="st" style="left:1507px;top:815.80px">01:45 PM</div>
<div class="st" style="left:1757px;top:815.80px">01:45 PM</div>
<div style="position:absolute;left:126px;top:840.75px;width:130px;height:1.5px;background:#dcdcdc;"></div>
<div class="dl" style="top:841px;left:256px;width:1658px"></div>
<div style="position:absolute;top:854.20px;line-height:20px;white-space:pre;color:#1e1e2a;font-size:13px;font-weight:400;letter-spacing:0.293px;left:163.50px;">02:00 PM</div>
<div class="st" style="left:257px;top:847.50px">02:00 PM</div>
<div class="st" style="left:507px;top:847.50px">02:00 PM</div>
<div class="st" style="left:757px;top:847.50px">02:00 PM</div>
<div class="st" style="left:1007px;top:847.50px">02:00 PM</div>
<div class="st" style="left:1257px;top:847.50px">02:00 PM</div>
<div class="st" style="left:1507px;top:847.50px">02:00 PM</div>
<div class="st" style="left:1757px;top:847.50px">02:00 PM</div>
<div class="dl" style="top:874px"></div>
<div style="position:absolute;top:886.50px;line-height:20px;white-space:pre;color:#a9a9a9;font-size:13px;font-weight:400;letter-spacing:0.016px;left:185.25px;">15</div>
<div class="st" style="left:257px;top:880.80px">02:15 PM</div>
<div class="st" style="left:507px;top:880.80px">02:15 PM</div>
<div class="st" style="left:757px;top:880.80px">02:15 PM</div>
<div class="st" style="left:1007px;top:880.80px">02:15 PM</div>
<div class="st" style="left:1257px;top:880.80px">02:15 PM</div>
<div class="st" style="left:1507px;top:880.80px">02:15 PM</div>
<div class="st" style="left:1757px;top:880.80px">02:15 PM</div>
<div class="dl" style="top:906px"></div>
<div style="position:absolute;top:919.00px;line-height:20px;white-space:pre;color:#a9a9a9;font-size:13px;font-weight:400;letter-spacing:0.016px;left:185.25px;">30</div>
<div class="st" style="left:257px;top:912.50px">02:30 PM</div>
<div class="st" style="left:507px;top:912.50px">02:30 PM</div>
<div class="st" style="left:757px;top:912.50px">02:30 PM</div>
<div class="st" style="left:1007px;top:912.50px">02:30 PM</div>
<div class="st" style="left:1257px;top:912.50px">02:30 PM</div>
<div class="st" style="left:1507px;top:912.50px">02:30 PM</div>
<div class="st" style="left:1757px;top:912.50px">02:30 PM</div>
<div class="dl" style="top:939px"></div>
<div style="position:absolute;top:951.50px;line-height:20px;white-space:pre;color:#a9a9a9;font-size:13px;font-weight:400;letter-spacing:0.016px;left:185.25px;">45</div>
<div class="st" style="left:257px;top:945.80px">02:45 PM</div>
<div class="st" style="left:507px;top:945.80px">02:45 PM</div>
<div class="st" style="left:757px;top:945.80px">02:45 PM</div>
<div class="st" style="left:1007px;top:945.80px">02:45 PM</div>
<div class="st" style="left:1257px;top:945.80px">02:45 PM</div>
<div class="st" style="left:1507px;top:945.80px">02:45 PM</div>
<div class="st" style="left:1757px;top:945.80px">02:45 PM</div>
<div class="vl" style="left:256px;width:1px;top:321px"></div>
<div class="vl" style="left:505.2px"></div>
<div class="vl" style="left:505.2px;height:128px;background:#e3e1e1"></div>
<div class="vl" style="left:755.2px"></div>
<div class="vl" style="left:755.2px;height:128px;background:#e3e1e1"></div>
<div class="vl" style="left:1005.2px"></div>
<div class="vl" style="left:1005.2px;height:128px;background:#e3e1e1"></div>
<div class="vl" style="left:1255.2px"></div>
<div class="vl" style="left:1255.2px;height:128px;background:#e3e1e1"></div>
<div class="vl" style="left:1505.2px"></div>
<div class="vl" style="left:1505.2px;height:128px;background:#e3e1e1"></div>
<div class="vl" style="left:1755.2px"></div>
<div class="vl" style="left:1755.2px;height:128px;background:#e3e1e1"></div>
<div class="vl" style="left:2005.2px"></div>
<div class="vl" style="left:2005.2px;height:128px;background:#e3e1e1"></div>
<div style="position:absolute;left:506.5px;top:679.5px;width:250px;height:31.3px;background:#f0f0f0;"></div>
<div class="st" style="left:507px;top:685.80px;color:#bdbdbd">12:45 PM</div>
<div style="position:absolute;left:0;top:0;width:1920px;height:969px;clip-path:inset(517px 1428px 62px 257px)">
<div style="position:absolute;left:257px;top:517px;width:235px;height:390px;background:#99f2ef;"></div>
<div style="position:absolute;top:517.00px;line-height:20px;white-space:pre;color:#fff;font-size:13px;font-weight:700;letter-spacing:0.126px;left:261.40px;text-shadow:0 0 .5px #fff;">Mark Jones | 6373377336</div>
<svg width="10" height="10" viewBox="0 0 10 10" style="position:absolute;left:258.7px;top:541.1999999999999px" fill="none" stroke="#fff" stroke-width="1.150"><circle cx="5" cy="5" r="4.100"/><path d="M5 2.400V5.200H7.400"/></svg>
<div style="position:absolute;top:537.20px;line-height:20px;white-space:pre;color:#fff;font-size:13px;font-weight:400;letter-spacing:0.231px;left:274.40px;text-shadow:0 0 .5px #fff;">11:30 AM - 02:30 PM (3 hours)</div>
<div style="position:absolute;top:555.80px;line-height:20px;white-space:pre;color:#fff;font-size:13px;font-weight:400;letter-spacing:0.267px;left:261.40px;text-shadow:0 0 .5px #fff;">ID#8119: Simple lesion</div>
<div style="position:absolute;top:594.60px;line-height:20px;white-space:pre;color:#fff;font-size:13px;font-weight:400;letter-spacing:-0.049px;left:261.40px;text-shadow:0 0 .5px #fff;">List:</div>
<div style="position:absolute;top:615.00px;line-height:20px;white-space:pre;color:#fff;font-size:13px;font-weight:400;letter-spacing:0.365px;left:261.40px;text-shadow:0 0 .5px #fff;">- Simple lesion (</div>
<div style="position:absolute;top:616.00px;line-height:20px;white-space:pre;color:#fff;font-size:10px;font-weight:400;letter-spacing:0.417px;left:360.80px;text-shadow:0 0 .5px #fff;-webkit-text-stroke:.35px #fff;">SS | Mole Removal</div>
<div style="position:absolute;top:615.00px;line-height:20px;white-space:pre;color:#fff;font-size:13px;font-weight:400;letter-spacing:0.056px;left:453.30px;text-shadow:0 0 .5px #fff;">)</div>
<div style="position:absolute;left:401.4px;top:887.4px;width:76.6px;height:21px;background:#99f2ef;border-radius:3px 3px 0 0;box-shadow:0 0 6px rgba(0,0,0,.4);"></div>
<div style="position:absolute;top:891.00px;line-height:12px;white-space:pre;color:#4f9291;font-size:9.8px;font-weight:700;letter-spacing:0.498px;left:406.70px;">COMPLETED</div>
<div style="position:absolute;left:260px;top:900px;width:227px;height:1.1px;background:repeating-linear-gradient(90deg,rgba(0,0,0,.36) 0 1.200px,transparent 1.200px 4px);"></div>
<div style="position:absolute;left:260px;top:903.9px;width:227px;height:1.2px;background:repeating-linear-gradient(90deg,rgba(0,0,0,.36) 0 1.200px,transparent 1.200px 4px);"></div>
<div style="position:absolute;left:491px;top:517px;width:1px;height:390px;background:#2f3a57;"></div>
<div style="position:absolute;left:257px;top:906px;width:235px;height:1px;background:#2f3a57;"></div>
</div>
<div style="position:absolute;left:0;top:0;width:1920px;height:969px;clip-path:inset(387px 1178px 322px 507px)">
<div style="position:absolute;left:507px;top:387px;width:235px;height:260px;background:#8e52b2;"></div>
<div style="position:absolute;top:387.00px;line-height:20px;white-space:pre;color:#fff;font-size:13px;font-weight:700;letter-spacing:0.184px;left:510.50px;text-shadow:0 0 .5px #fff;">Abigail Joness | +447490009777</div>
<svg width="10" height="10" viewBox="0 0 10 10" style="position:absolute;left:508.7px;top:411.4px" fill="none" stroke="#fff" stroke-width="1.150"><circle cx="5" cy="5" r="4.100"/><path d="M5 2.400V5.200H7.400"/></svg>
<div style="position:absolute;top:407.40px;line-height:20px;white-space:pre;color:#fff;font-size:13px;font-weight:400;letter-spacing:0.18px;left:524.60px;text-shadow:0 0 .5px #fff;">10:30 AM - 12:30 PM (2 hours)</div>
<div style="position:absolute;top:425.80px;line-height:20px;white-space:pre;color:#fff;font-size:13px;font-weight:400;letter-spacing:0.381px;left:511.60px;text-shadow:0 0 .5px #fff;">ID#8114: Career Counselling</div>
<div style="position:absolute;top:464.60px;line-height:20px;white-space:pre;color:#fff;font-size:13px;font-weight:400;letter-spacing:-0.049px;left:511.60px;text-shadow:0 0 .5px #fff;">List:</div>
<div style="position:absolute;top:485.00px;line-height:20px;white-space:pre;color:#fff;font-size:13px;font-weight:400;letter-spacing:0.424px;left:511.60px;text-shadow:0 0 .5px #fff;">- Career Counselling (</div>
<div style="position:absolute;top:486.00px;line-height:20px;white-space:pre;color:#fff;font-size:10px;font-weight:400;letter-spacing:0.38px;left:648.10px;text-shadow:0 0 .5px #fff;-webkit-text-stroke:.35px #fff;">COUNSELLING |</div>
<div style="position:absolute;top:505.90px;line-height:20px;white-space:pre;color:#fff;font-size:10px;font-weight:400;letter-spacing:0.43px;left:511.00px;text-shadow:0 0 .5px #fff;-webkit-text-stroke:.35px #fff;">Counselling</div>
<div style="position:absolute;top:504.90px;line-height:20px;white-space:pre;color:#fff;font-size:13px;font-weight:400;letter-spacing:0.056px;left:568.00px;text-shadow:0 0 .5px #fff;">)</div>
<div style="position:absolute;left:671.4px;top:627.4px;width:56.6px;height:21px;background:#b400d0;border-radius:3px 3px 0 0;box-shadow:0 0 6px rgba(0,0,0,.4);"></div>
<div style="position:absolute;top:631.00px;line-height:12px;white-space:pre;color:#fff;font-size:9.8px;font-weight:700;letter-spacing:0.272px;left:676.70px;">ARRIVED</div>
<div style="position:absolute;left:510px;top:640px;width:227px;height:1.1px;background:repeating-linear-gradient(90deg,rgba(0,0,0,.36) 0 1.200px,transparent 1.200px 4px);"></div>
<div style="position:absolute;left:510px;top:643.9px;width:227px;height:1.2px;background:repeating-linear-gradient(90deg,rgba(0,0,0,.36) 0 1.200px,transparent 1.200px 4px);"></div>
<div style="position:absolute;left:741px;top:387px;width:1px;height:260px;background:#2f3a57;"></div>
<div style="position:absolute;left:507px;top:646px;width:235px;height:1px;background:#2f3a57;"></div>
</div>
<div style="position:absolute;left:0;top:0;width:1920px;height:969px;clip-path:inset(615px 928px 94px 757px)">
<div style="position:absolute;left:757px;top:615px;width:235px;height:260px;background:#eac35b;"></div>
<div style="position:absolute;top:615.00px;line-height:20px;white-space:pre;color:#111;font-size:13px;font-weight:400;letter-spacing:0.441px;left:760.80px;-webkit-text-stroke:.2px #111;">Abigail Joness | +447490009777</div>
<svg width="10" height="10" viewBox="0 0 10 10" style="position:absolute;left:758.7px;top:638.4px" fill="none" stroke="#111" stroke-width="1.150"><circle cx="5" cy="5" r="4.100"/><path d="M5 2.400V5.200H7.400"/></svg>
<div style="position:absolute;top:634.40px;line-height:20px;white-space:pre;color:#111;font-size:13px;font-weight:400;letter-spacing:0.018px;left:774.60px;-webkit-text-stroke:.2px #111;">12:15 PM - 02:15 PM (2 hours)</div>
<div style="position:absolute;top:653.80px;line-height:20px;white-space:pre;color:#111;font-size:13px;font-weight:400;letter-spacing:0.334px;left:761.60px;-webkit-text-stroke:.2px #111;">ID#8116: Botox 3 Areas</div>
<div style="position:absolute;top:692.60px;line-height:20px;white-space:pre;color:#111;font-size:13px;font-weight:400;letter-spacing:-0.049px;left:761.60px;-webkit-text-stroke:.2px #111;">List:</div>
<div style="position:absolute;top:712.00px;line-height:20px;white-space:pre;color:#111;font-size:13px;font-weight:400;letter-spacing:0.422px;left:761.60px;-webkit-text-stroke:.2px #111;">- Botox 3 Areas (</div>
<div style="position:absolute;top:713.00px;line-height:20px;white-space:pre;color:#111;font-size:10px;font-weight:400;letter-spacing:0.587px;left:865.60px;-webkit-text-stroke:.2px #111;-webkit-text-stroke:.35px #111;">LMT | Botox</div>
<div style="position:absolute;top:712.00px;line-height:20px;white-space:pre;color:#111;font-size:13px;font-weight:400;letter-spacing:0.056px;left:925.60px;-webkit-text-stroke:.2px #111;">)</div>
<div style="position:absolute;left:921.9px;top:855.4px;width:56.1px;height:21px;background:#efc551;border-radius:3px 3px 0 0;box-shadow:0 0 6px rgba(0,0,0,.4);"></div>
<div style="position:absolute;top:859.00px;line-height:12px;white-space:pre;color:#fff;font-size:9.8px;font-weight:700;letter-spacing:0.414px;left:927.20px;">BOOKED</div>
<div style="position:absolute;left:760px;top:868px;width:227px;height:1.1px;background:repeating-linear-gradient(90deg,rgba(0,0,0,.36) 0 1.200px,transparent 1.200px 4px);"></div>
<div style="position:absolute;left:760px;top:871.9px;width:227px;height:1.2px;background:repeating-linear-gradient(90deg,rgba(0,0,0,.36) 0 1.200px,transparent 1.200px 4px);"></div>
<div style="position:absolute;left:991px;top:615px;width:1px;height:260px;background:#2f3a57;"></div>
<div style="position:absolute;left:757px;top:874px;width:235px;height:1px;background:#2f3a57;"></div>
</div>
<div style="position:absolute;left:0;top:0;width:1920px;height:969px;clip-path:inset(420px 678px 257px 1007px)">
<div style="position:absolute;left:1007px;top:420px;width:235px;height:292px;background:#5b78f6;"></div>
<div style="position:absolute;top:420.00px;line-height:20px;white-space:pre;color:#fff;font-size:13px;font-weight:700;letter-spacing:0.233px;left:1010.60px;text-shadow:0 0 .5px #fff;">Stacey Korey | 067895432123456</div>
<svg width="10" height="10" viewBox="0 0 10 10" style="position:absolute;left:1008.7px;top:443.4px" fill="none" stroke="#fff" stroke-width="1.150"><circle cx="5" cy="5" r="4.100"/><path d="M5 2.400V5.200H7.400"/></svg>
<div style="position:absolute;top:439.40px;line-height:20px;white-space:pre;color:#fff;font-size:13px;font-weight:400;letter-spacing:0.229px;left:1024.40px;text-shadow:0 0 .5px #fff;">10:45 AM - 01:00 PM (2 hours 15</div>
<div style="position:absolute;top:458.80px;line-height:20px;white-space:pre;color:#fff;font-size:13px;font-weight:400;letter-spacing:0.244px;left:1008.00px;text-shadow:0 0 .5px #fff;">mins)</div>
<div style="position:absolute;top:478.20px;line-height:20px;white-space:pre;color:#fff;font-size:13px;font-weight:400;letter-spacing:0.334px;left:1011.40px;text-shadow:0 0 .5px #fff;">ID#8118: Botox 3 Areas</div>
<div style="position:absolute;top:517.00px;line-height:20px;white-space:pre;color:#fff;font-size:13px;font-weight:400;letter-spacing:-0.049px;left:1011.40px;text-shadow:0 0 .5px #fff;">List:</div>
<div style="position:absolute;top:537.40px;line-height:20px;white-space:pre;color:#fff;font-size:13px;font-weight:400;letter-spacing:0.422px;left:1011.40px;text-shadow:0 0 .5px #fff;">- Botox 3 Areas (</div>
<div style="position:absolute;top:538.40px;line-height:20px;white-space:pre;color:#fff;font-size:10px;font-weight:400;letter-spacing:0.587px;left:1115.40px;text-shadow:0 0 .5px #fff;-webkit-text-stroke:.35px #fff;">LMT | Botox</div>
<div style="position:absolute;top:537.40px;line-height:20px;white-space:pre;color:#fff;font-size:13px;font-weight:400;letter-spacing:0.056px;left:1175.40px;text-shadow:0 0 .5px #fff;">)</div>
<div style="position:absolute;left:1153.1px;top:692.4px;width:74.89999999999999px;height:21px;background:#5b78f6;border-radius:3px 3px 0 0;box-shadow:0 0 6px rgba(0,0,0,.4);"></div>
<div style="position:absolute;top:696.00px;line-height:12px;white-space:pre;color:#fff;font-size:9.8px;font-weight:700;letter-spacing:0.552px;left:1158.40px;">CONFIRMED</div>
<div style="position:absolute;left:1071.9px;top:692.4px;width:75.3px;height:21px;background:#5b78f6;border-radius:3px 3px 0 0;box-shadow:0 0 6px rgba(0,0,0,.4);"></div>
<div style="position:absolute;top:696.00px;line-height:12px;white-space:pre;color:#fff;font-size:9.8px;font-weight:700;letter-spacing:0.375px;left:1077.20px;">NEW CLIENT</div>
<div style="position:absolute;left:1010px;top:705px;width:227px;height:1.1px;background:repeating-linear-gradient(90deg,rgba(0,0,0,.36) 0 1.200px,transparent 1.200px 4px);"></div>
<div style="position:absolute;left:1010px;top:708.9px;width:227px;height:1.2px;background:repeating-linear-gradient(90deg,rgba(0,0,0,.36) 0 1.200px,transparent 1.200px 4px);"></div>
<div style="position:absolute;left:1241px;top:420px;width:1px;height:292px;background:#2f3a57;"></div>
<div style="position:absolute;left:1007px;top:711px;width:235px;height:1px;background:#2f3a57;"></div>
</div>
<div style="position:absolute;left:0;top:0;width:1920px;height:969px;clip-path:inset(550px 428px 94px 1257px)">
<div style="position:absolute;left:1257px;top:550px;width:235px;height:325px;background:#79cd79;"></div>
<div style="position:absolute;top:550.00px;line-height:20px;white-space:pre;color:#fff;font-size:13px;font-weight:700;letter-spacing:0.314px;left:1260.80px;text-shadow:0 0 .5px #fff;">Ehrmantraut | 0778999889</div>
<svg width="10" height="10" viewBox="0 0 10 10" style="position:absolute;left:1258.7px;top:573.4px" fill="none" stroke="#fff" stroke-width="1.150"><circle cx="5" cy="5" r="4.100"/><path d="M5 2.400V5.200H7.400"/></svg>
<div style="position:absolute;top:569.40px;line-height:20px;white-space:pre;color:#fff;font-size:13px;font-weight:400;letter-spacing:0.225px;left:1274.00px;text-shadow:0 0 .5px #fff;">11:45 AM - 02:15 PM (2 hours 30</div>
<div style="position:absolute;top:588.80px;line-height:20px;white-space:pre;color:#fff;font-size:13px;font-weight:400;letter-spacing:0.244px;left:1258.00px;text-shadow:0 0 .5px #fff;">mins)</div>
<div style="position:absolute;top:608.20px;line-height:20px;white-space:pre;color:#fff;font-size:13px;font-weight:400;letter-spacing:0.36px;left:1261.30px;text-shadow:0 0 .5px #fff;">ID#8113: Dialog Flow Booking</div>
<div style="position:absolute;top:647.00px;line-height:20px;white-space:pre;color:#fff;font-size:13px;font-weight:400;letter-spacing:-0.049px;left:1261.30px;text-shadow:0 0 .5px #fff;">List:</div>
<div style="position:absolute;top:667.40px;line-height:20px;white-space:pre;color:#fff;font-size:13px;font-weight:400;letter-spacing:0.511px;left:1261.30px;text-shadow:0 0 .5px #fff;">- Dialog Flow Consultation Notes:</div>
<div style="position:absolute;top:685.80px;line-height:20px;white-space:pre;color:#fff;font-size:13px;font-weight:400;letter-spacing:0.586px;left:1261.30px;text-shadow:0 0 .5px #fff;">The booking was taken via the</div>
<div style="position:absolute;top:706.20px;line-height:20px;white-space:pre;color:#fff;font-size:13px;font-weight:400;letter-spacing:0.677px;left:1261.30px;text-shadow:0 0 .5px #fff;">Dialog Flow Implementation</div>
<div style="position:absolute;left:1442.9px;top:855.4px;width:35.1px;height:21px;background:#5fa648;border-radius:3px 3px 0 0;box-shadow:0 0 6px rgba(0,0,0,.4);"></div>
<div style="position:absolute;top:859.00px;line-height:12px;white-space:pre;color:#fff;font-size:9.8px;font-weight:700;letter-spacing:0.453px;left:1448.20px;">PAID</div>
<div style="position:absolute;left:1361.7px;top:855.4px;width:75.3px;height:21px;background:#5a6ff0;border-radius:3px 3px 0 0;box-shadow:0 0 6px rgba(0,0,0,.4);"></div>
<div style="position:absolute;top:859.00px;line-height:12px;white-space:pre;color:#fff;font-size:9.8px;font-weight:700;letter-spacing:0.375px;left:1367.00px;">NEW CLIENT</div>
<div style="position:absolute;left:1260px;top:868px;width:227px;height:1.1px;background:repeating-linear-gradient(90deg,rgba(0,0,0,.36) 0 1.200px,transparent 1.200px 4px);"></div>
<div style="position:absolute;left:1260px;top:871.9px;width:227px;height:1.2px;background:repeating-linear-gradient(90deg,rgba(0,0,0,.36) 0 1.200px,transparent 1.200px 4px);"></div>
<div style="position:absolute;left:1491px;top:550px;width:1px;height:325px;background:#2f3a57;"></div>
<div style="position:absolute;left:1257px;top:874px;width:235px;height:1px;background:#2f3a57;"></div>
</div>
<div style="position:absolute;left:579px;top:702px;width:156px;height:49px;background:#9edfd2;border-bottom:2px solid #62ad96;border-radius:0 6px 7px 0;box-shadow:0 4px 18px rgba(0,0,0,.28);"></div>
<div style="position:absolute;top:702.10px;line-height:20px;white-space:pre;color:#111;font-size:15px;font-weight:400;letter-spacing:0.314px;left:593.40px;">LAURA</div>
<div style="position:absolute;top:725.30px;line-height:20px;white-space:pre;color:#111;font-size:15px;font-weight:400;letter-spacing:0.348px;left:593.40px;">12:45 PM</div>
<svg style="position:absolute;left:563px;top:701px" width="14" height="21" viewBox="0 0 14 21"><path d="M1.200 1.200V16.800L4.900 13.300L7.600 19.300L10 18.200L7.400 12.400H12.300Z" fill="#fff" stroke="#111" stroke-width=".900" stroke-linejoin="miter"/></svg>
<div style="position:absolute;left:1876px;top:293px;width:44px;height:46px;border-radius:6px 0 0 6px;box-shadow:0 0 16px 7px rgba(255,255,255,.93);"></div>
<div style="position:absolute;left:1876px;top:358px;width:44px;height:46px;border-radius:6px 0 0 6px;box-shadow:0 0 16px 7px rgba(255,255,255,.93);"></div>
<div style="position:absolute;left:1914px;top:192px;width:6px;height:765px;background:#f1f1f1;"></div>
<div style="position:absolute;left:1914px;top:192px;width:6px;height:355px;background:#808080;"></div>
<div style="position:absolute;left:126px;top:957px;width:1788px;height:6px;background:#f0f0f0;"></div>
<div style="position:absolute;left:126px;top:957px;width:1215px;height:6px;background:#858585;"></div>
<div style="position:absolute;left:1914px;top:957px;width:6px;height:12px;background:#fff;"></div>
<div style="position:absolute;left:126px;top:963px;width:1794px;height:6px;background:#fff;"></div>
<div style="position:absolute;left:1874px;top:291px;width:46px;height:50px;background:#fff;border-radius:6px 0 0 6px;"></div>
<div style="position:absolute;left:1882px;top:301px;width:30px;height:30px;background:#f1f0f7;border-radius:4px;"></div>
<div style="position:absolute;left:1874px;top:356px;width:46px;height:50px;background:#fff;border-radius:6px 0 0 6px;"></div>
<div style="position:absolute;left:1882px;top:366px;width:30px;height:30px;background:#f1f0f7;border-radius:4px;"></div>
<svg style="position:absolute;left:1887px;top:305px" width="20" height="20" viewBox="0 0 20 20" fill="none" stroke="#e8b748" stroke-width="1.300"><path d="M1 3.500H15.500L13.200 11.500H3.300Z"/><path d="M14 8L16.200 1H18.500" /><circle cx="5.500" cy="15.800" r="1.900"/><circle cx="11.500" cy="15.800" r="1.900"/></svg>
<svg style="position:absolute;left:1888px;top:370.500px" width="18" height="18" viewBox="0 0 18 18"><circle cx="9" cy="9" r="8.700" fill="#6fc3ae"/><path d="M5.800 4.300C6.600 3.700 7.200 4 7.500 4.700L8 6.200C8.100 6.700 7.900 7 7.500 7.400C8 8.800 9.200 10 10.600 10.500C11 10.100 11.300 9.900 11.800 10L13.300 10.500C14 10.800 14.300 11.400 13.700 12.200C13 13.200 12 13.600 10.800 13.200C8 12.300 5.700 10 4.800 7.200C4.400 6 4.800 5 5.800 4.300Z" fill="#fff"/></svg>
</div></body></html>
